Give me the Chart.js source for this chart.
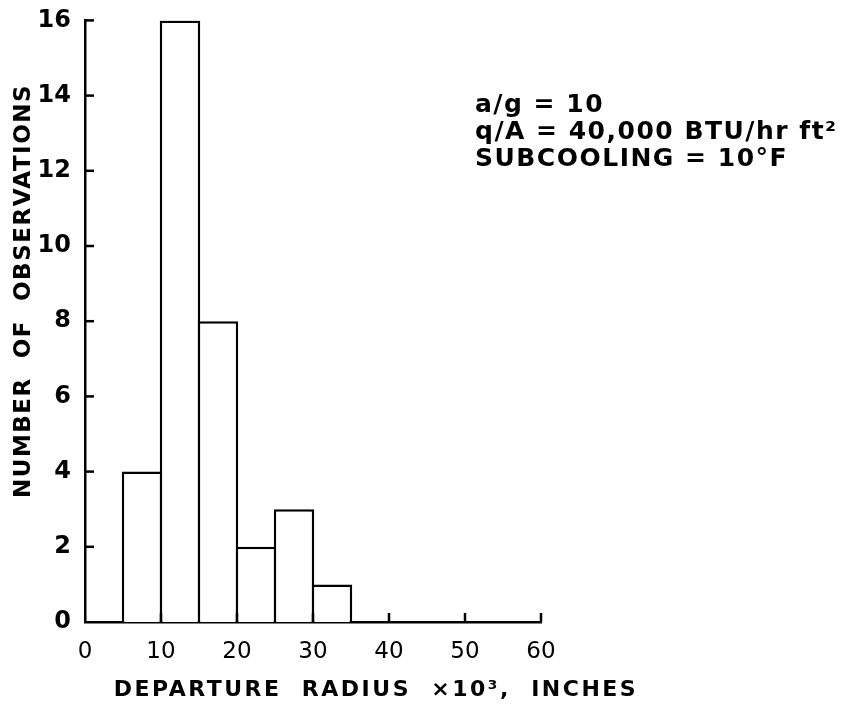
<!DOCTYPE html>
<html>
<head>
<meta charset="utf-8">
<script src="https://cdn.jsdelivr.net/npm/chart.js@4.4.1/dist/chart.umd.min.js"></script>
<style>
  html, body { margin: 0; padding: 0; background: #fff; }
  #wrap { width: 861px; height: 705px; }
</style>
</head>
<body>
<div id="wrap"><canvas id="histChart" width="861" height="705"></canvas></div>
<script>
// histogram data: bin centres (x10^3 in) and counts
const binCenters = [7.5, 12.5, 17.5, 22.5, 27.5, 32.5];
const counts = [4, 16, 8, 2, 3, 1];
const xTicks = [0, 10, 20, 30, 40, 50, 60];
const yTicks = [0, 2, 4, 6, 8, 10, 12, 14, 16];
const noteLines = ['a/g = 10', 'q/A = 40,000 BTU/hr ft²', 'SUBCOOLING = 10°F'];

const ink = '#000';
const fontFam = '"DejaVu Sans", "Liberation Sans", sans-serif';

// inward tick marks, axis titles and the condition note
const extras = {
  id: 'extras',
  afterDraw(chart) {
    const ctx = chart.ctx;
    const xs = chart.scales.x, ys = chart.scales.y;
    const area = chart.chartArea;
    ctx.save();
    ctx.strokeStyle = ink;
    ctx.lineWidth = 2.5;
    xTicks.forEach(v => {
      if (v === 0) return;
      const px = xs.getPixelForValue(v);
      ctx.beginPath();
      ctx.moveTo(px, area.bottom);
      ctx.lineTo(px, area.bottom - 9);
      ctx.stroke();
    });
    yTicks.forEach(v => {
      if (v === 0) return;
      const py = ys.getPixelForValue(v);
      ctx.beginPath();
      ctx.moveTo(area.left, py);
      ctx.lineTo(area.left + 9, py);
      ctx.stroke();
    });

    ctx.fillStyle = ink;
    // y title
    ctx.save();
    ctx.translate(24, 291);
    ctx.rotate(-Math.PI / 2);
    ctx.font = 'bold 23px ' + fontFam;
    ctx.letterSpacing = '1.5px';
    ctx.textAlign = 'center';
    ctx.textBaseline = 'middle';
    ctx.fillText('NUMBER  OF  OBSERVATIONS', 0, 0);
    ctx.restore();

    // x title
    ctx.save();
    ctx.font = 'bold 22px ' + fontFam;
    ctx.letterSpacing = '2.5px';
    ctx.textAlign = 'center';
    ctx.textBaseline = 'middle';
    ctx.fillText('DEPARTURE  RADIUS  ×10³,  INCHES', 376, 690);
    ctx.restore();

    // note
    ctx.save();
    ctx.font = 'bold 25px ' + fontFam;
    ctx.letterSpacing = '1.5px';
    ctx.textAlign = 'left';
    ctx.textBaseline = 'middle';
    noteLines.forEach((t, i) => ctx.fillText(t, 475, 105 + i * 27));
    ctx.restore();
    ctx.restore();
  }
};

new Chart(document.getElementById('histChart').getContext('2d'), {
  type: 'bar',
  data: {
    datasets: [{
      data: binCenters.map((c, i) => ({ x: c, y: counts[i] })),
      backgroundColor: '#fff',
      borderColor: ink,
      borderWidth: 2.5,
      barPercentage: 1.065,
      categoryPercentage: 1
    }]
  },
  options: {
    responsive: false,
    animation: false,
    layout: { padding: { left: 0, right: 320, top: 20, bottom: 0 } },
    plugins: { legend: { display: false }, tooltip: { enabled: false } },
    scales: {
      x: {
        type: 'linear',
        offset: false,
        min: 0,
        max: 60,
        afterFit: s => { s.height = 83; },
        afterBuildTicks: s => { s.ticks = xTicks.map(v => ({ value: v })); },
        grid: { display: false, offset: false },
        border: { color: ink, width: 2.5 },
        ticks: { color: ink, padding: 8, font: { family: fontFam, size: 23 } }
      },
      y: {
        min: 0,
        max: 16,
        afterFit: s => { s.width = 85; },
        afterBuildTicks: s => { s.ticks = yTicks.map(v => ({ value: v })); },
        grid: { display: false },
        border: { color: ink, width: 2.5 },
        ticks: { color: ink, padding: 6, font: { family: fontFam, size: 24, weight: 'bold' } }
      }
    }
  },
  plugins: [extras]
});
</script>
</body>
</html>
